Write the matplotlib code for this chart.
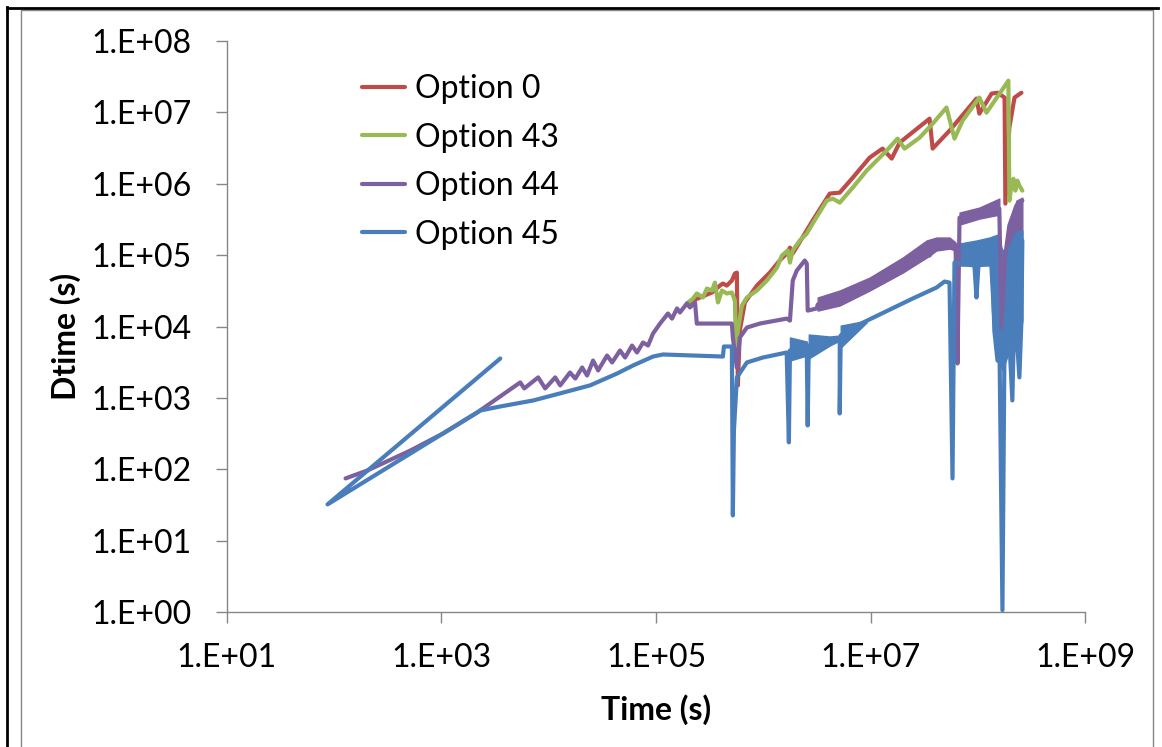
import matplotlib
matplotlib.use("Agg")
import matplotlib.pyplot as plt
import numpy as np
from matplotlib.lines import Line2D
from matplotlib.patches import Rectangle
from matplotlib.ticker import FixedLocator, FuncFormatter, NullLocator

plt.rcParams["font.family"] = ["Lato", "DejaVu Sans"]

RED = "#BE4B48"
GREEN = "#98B954"
PURPLE = "#7D60A0"
BLUE = "#4A7EBB"

# Option 0
opt0_time = [1.94e5, 2.57e5, 3.32e5, 3.94e5, 4.20e5, 4.57e5, 5.09e5, 5.43e5, 5.67e5, 5.79e5,
             6.04e5, 6.73e5, 8.71e5, 1.15e6, 1.42e6, 1.65e6, 1.77e6, 1.88e6, 2.88e6, 4.16e6,
             5.15e6, 6.81e6, 9.79e6, 1.29e7, 1.57e7, 1.86e7, 3.54e7, 3.78e7, 5.43e7, 9.68e7,
             1.03e8, 1.34e8, 1.52e8, 1.77e8, 1.80e8, 1.96e8, 2.19e8, 2.54e8]
opt0_dt = [2.10e4, 2.55e4, 2.99e4, 3.74e4, 3.99e4, 3.74e4, 4.40e4, 5.51e4, 5.69e4, 1.50e3,
           8.79e3, 2.17e4, 3.74e4, 5.69e4, 8.38e4, 1.05e5, 1.27e5, 1.05e5, 3.04e5, 7.25e5,
           7.48e5, 1.21e6, 2.31e6, 3.09e6, 2.24e6, 3.74e6, 8.11e6, 3.09e6, 5.51e6, 1.55e7,
           9.53e6, 1.82e7, 1.87e7, 1.60e7, 5.25e5, 6.07e6, 1.60e7, 1.87e7]

# Option 43
opt43_time = [1.94e5, 2.21e5, 2.40e5, 2.74e5, 2.98e5, 3.32e5, 3.54e5, 3.78e5, 4.11e5, 4.57e5,
              5.09e5, 5.43e5, 5.55e5, 5.79e5, 6.31e5, 7.03e5, 8.71e5, 1.08e6, 1.34e6, 1.49e6,
              1.69e6, 1.77e6, 1.88e6, 2.19e6, 2.54e6, 2.88e6, 3.90e6, 4.43e6, 5.15e6, 6.81e6,
              9.18e6, 1.41e7, 1.78e7, 2.07e7, 2.86e7, 3.78e7, 5.09e7, 6.04e7, 7.18e7, 1.03e8,
              1.20e8, 1.66e8, 1.92e8, 1.96e8, 2.05e8, 2.14e8, 2.23e8, 2.33e8, 2.43e8, 2.59e8]
opt43_dt = [2.10e4, 2.46e4, 2.90e4, 2.55e4, 3.40e4, 3.19e4, 4.12e4, 2.17e4, 3.19e4, 2.90e4,
            2.99e4, 2.31e4, 5.42e3, 8.79e3, 1.97e4, 2.55e4, 3.19e4, 4.40e4, 6.68e4, 9.84e4,
            1.16e5, 7.85e4, 1.16e5, 1.60e5, 2.00e5, 2.76e5, 5.78e5, 6.17e5, 5.42e5, 8.79e5,
            1.52e6, 2.90e6, 4.26e6, 3.09e6, 4.40e6, 6.90e6, 1.16e7, 4.26e6, 7.60e6, 1.60e7,
            9.84e6, 2.00e7, 2.76e7, 5.78e5, 9.38e5, 1.17e6, 7.98e5, 1.10e6, 9.38e5, 7.98e5]

# Option 44
opt44_time = [128, 205, 515, 1.04e3, 2.16e3, 5.43e3, 5.92e3, 7.98e3, 9.27e3, 1.15e4,
              1.28e4, 1.58e4, 1.77e4, 2.05e4, 2.28e4, 2.59e4, 2.89e4, 3.50e4, 3.90e4, 4.62e4,
              5.15e4, 5.98e4, 6.65e4, 7.57e4, 8.43e4, 9.38e4, 1.09e5, 1.21e5, 1.29e5, 1.41e5,
              1.57e5, 1.67e5, 1.94e5, 2.07e5, 2.31e5, 2.40e5, 5.09e5, 5.20e5, 5.43e5, 5.67e5,
              6.04e5, 7.03e5, 9.27e5, 1.65e6, 1.77e6, 1.88e6, 2.05e6, 2.43e6, 2.54e6, 2.59e6,
              3.15e6, 3.21e6, 5.15e6, 9.79e6, 1.99e7, 3.32e7, 3.54e7, 4.11e7, 5.43e7, 6.18e7,
              6.44e7, 6.73e7, 1.49e8, 1.58e8, 1.66e8, 1.77e8, 1.96e8, 2.28e8, 2.59e8]
opt44_dt = [74.8, 96.8, 184, 319, 627, 1.65e3, 1.36e3, 1.94e3, 1.36e3, 1.94e3,
            1.50e3, 2.27e3, 1.87e3, 2.67e3, 2.06e3, 3.34e3, 2.43e3, 3.93e3, 3.14e3, 4.62e3,
            3.68e3, 5.42e3, 4.33e3, 5.97e3, 5.42e3, 7.98e3, 1.10e4, 1.34e4, 1.52e4, 1.29e4,
            1.79e4, 1.57e4, 2.10e4, 1.85e4, 2.17e4, 1.10e4, 1.10e4, 7.02e3, 4.19e3, 2.67e3,
            7.02e3, 9.68e3, 1.10e4, 1.29e4, 1.21e4, 4.40e4, 6.07e4, 8.38e4, 7.60e4, 1.67e4,
            1.79e4, 2.03e4, 2.46e4, 3.87e4, 7.13e4, 1.19e5, 9.84e4, 1.40e5, 1.45e5, 1.36e5,
            3.04e3, 3.34e5, 4.62e5, 4.47e5, 8.79e3, 8.38e4, 2.59e5, 4.92e5, 5.78e5]

# Option 44 oscillating bands (time, low, high)
opt44_band_a_time = [3.21e6, 5.15e6, 9.79e6, 1.99e7, 3.32e7, 4.11e7, 5.43e7, 6.18e7]
opt44_band_a_low = [1.67e4, 1.97e4, 3.19e4, 5.69e4, 9.23e4, 1.16e5, 1.23e5, 1.16e5]
opt44_band_a_high = [2.55e4, 3.19e4, 4.84e4, 9.23e4, 1.60e5, 1.76e5, 1.76e5, 1.50e5]
opt44_band_b_time = [6.73e7, 1.03e8, 1.58e8]
opt44_band_b_low = [2.67e5, 3.24e5, 3.68e5]
opt44_band_b_high = [3.93e5, 4.62e5, 6.17e5]
opt44_band_c_time = [1.77e8, 1.96e8, 2.28e8, 2.59e8]
opt44_band_c_low = [2.31e4, 3.19e4, 4.40e4, 6.07e4]
opt44_band_c_high = [9.84e4, 2.59e5, 5.78e5, 6.37e5]

# Option 45
opt45_time = [3.54e3, 87, 2.16e3, 2.31e3, 3.54e3, 7.18e3, 1.28e4, 2.43e4, 4.34e4, 6.11e4,
              9.38e4, 1.16e5, 4.20e5, 4.29e5, 5.09e5, 5.20e5, 5.32e5, 5.67e5, 7.03e5, 9.89e5,
              1.65e6, 1.73e6, 1.77e6, 2.54e6, 2.59e6, 2.65e6, 4.16e6, 5.15e6, 5.15e6, 5.26e6,
              5.98e6, 1.21e7, 2.46e7, 4.11e7, 4.88e7, 5.43e7, 5.79e7, 6.04e7, 9.27e7, 9.68e7,
              1.01e8, 1.36e8, 1.42e8, 1.52e8, 1.58e8, 1.69e8, 1.77e8, 1.88e8, 2.09e8, 2.19e8,
              2.43e8, 2.54e8, 2.59e8]
opt45_dt = [3.57e3, 32.4, 627, 668, 760, 923, 1.16e3, 1.50e3, 2.20e3, 2.85e3,
            3.80e3, 4.06e3, 3.80e3, 5.25e3, 5.25e3, 22.7, 351, 1.94e3, 3.14e3, 3.68e3,
            4.33e3, 239, 4.62e3, 4.92e3, 412, 5.42e3, 6.37e3, 6.79e3, 607, 7.48e3,
            8.79e3, 1.47e4, 2.46e4, 3.51e4, 4.26e4, 4.12e4, 74.8, 7.85e4, 7.13e4, 2.55e4,
            7.13e4, 7.85e4, 8.79e3, 3.34e3, 8.79e3, 1.07, 8.79e3, 2.31e4, 923, 2.31e4,
            1.94e3, 1.21e4, 1.60e5]

# Option 45 oscillating bands (time, low, high)
opt45_bands = [
    ([1.77e6, 2.54e6], [3.34e3, 3.93e3], [7.02e3, 6.17e3]),
    ([2.65e6, 4.16e6, 5.15e6], [3.57e3, 5.42e3, 6.37e3], [7.73e3, 7.25e3, 7.48e3]),
    ([5.26e6, 9.18e6], [5.08e3, 1.14e4], [1.03e4, 1.21e4]),
    ([6.04e7, 6.73e7, 9.68e7, 1.28e8, 1.36e8, 1.52e8, 1.69e8, 1.96e8, 2.23e8, 2.43e8, 2.59e8],
     [7.13e4, 7.13e4, 7.13e4, 7.13e4, 1.34e4, 3.68e3, 2.43e3, 4.62e3, 4.62e3, 6.37e3, 1.21e4],
     [1.27e5, 1.45e5, 1.60e5, 1.76e5, 1.82e5, 1.93e5, 1.16e5, 1.34e5, 2.07e5, 2.20e5, 2.20e5]),
]

fig = plt.figure(figsize=(11.62, 7.47), dpi=100)
ax = fig.add_axes([0.1951, 0.1803, 0.7389, 0.7652])

line_kw = dict(lw=3.0, solid_joinstyle="round", solid_capstyle="round")
ax.plot(opt0_time, opt0_dt, color=RED, label="Option 0", **line_kw)
ax.plot(opt43_time, opt43_dt, color=GREEN, label="Option 43", **line_kw)
ax.plot(opt44_time, opt44_dt, color=PURPLE, label="Option 44", **line_kw)
for t, lo, hi in [(opt44_band_a_time, opt44_band_a_low, opt44_band_a_high),
                  (opt44_band_b_time, opt44_band_b_low, opt44_band_b_high),
                  (opt44_band_c_time, opt44_band_c_low, opt44_band_c_high)]:
    ax.fill_between(t, lo, hi, color=PURPLE, lw=1)
ax.plot(opt45_time, opt45_dt, color=BLUE, label="Option 45", **line_kw)
for t, lo, hi in opt45_bands:
    ax.fill_between(t, lo, hi, color=BLUE, lw=1)

ax.set_xscale("log")
ax.set_yscale("log")
ax.set_xlim(10, 1e9)
ax.set_ylim(1, 1e8)
ax.xaxis.set_major_locator(FixedLocator([1e1, 1e3, 1e5, 1e7, 1e9]))
ax.yaxis.set_major_locator(FixedLocator([10.0 ** k for k in range(9)]))
ax.xaxis.set_minor_locator(NullLocator())
ax.yaxis.set_minor_locator(NullLocator())
fmt = FuncFormatter(lambda v, pos: f"1.E{int(round(np.log10(v))):+03d}")
ax.xaxis.set_major_formatter(fmt)
ax.yaxis.set_major_formatter(fmt)

for side in ("top", "right"):
    ax.spines[side].set_visible(False)
for side in ("left", "bottom"):
    ax.spines[side].set_color("#868686")
    ax.spines[side].set_linewidth(1)
ax.tick_params(direction="out", length=8, width=1, color="#868686", labelsize=23)
ax.tick_params(axis="y", pad=17)
ax.tick_params(axis="x", pad=14)

ax.set_xlabel("Time (s)", fontsize=23, fontweight="bold")
ax.set_ylabel("Dtime (s)", fontsize=23, fontweight="bold")
ax.xaxis.set_label_coords(0.5, -0.171)
ax.xaxis.label.set_va("center")
ax.yaxis.set_label_coords(-0.188, 0.482)
ax.yaxis.label.set_va("center")

ax.legend(loc="upper left", bbox_to_anchor=(362 / 1162, 1 - 74 / 747),
          bbox_transform=fig.transFigure, frameon=False, fontsize=23,
          handlelength=1.35, handletextpad=0.3, labelspacing=0.58,
          borderpad=0, borderaxespad=0)

# chart frame
fig.add_artist(Rectangle((20.7 / 1162, -0.01), 1132 / 1162, 1 - 10 / 747 + 0.01,
                         transform=fig.transFigure, fill=False, edgecolor="#868686", lw=1))
fig.add_artist(Line2D([6.5 / 1162] * 2, [0, 1 - 7 / 747], transform=fig.transFigure,
                      color="black", lw=2))
fig.add_artist(Line2D([6.5 / 1162, 1158 / 1162], [1 - 8 / 747] * 2, transform=fig.transFigure,
                      color="black", lw=2))

fig.savefig("out.png", dpi=100)
